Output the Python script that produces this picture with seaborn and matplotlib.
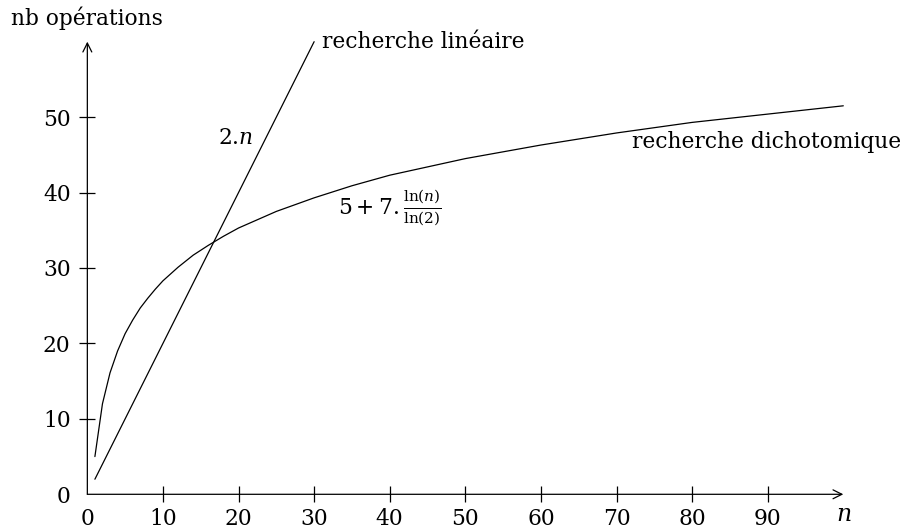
"""Nombre d'opérations : recherche linéaire contre recherche dichotomique."""

import matplotlib

matplotlib.use("Agg")
import matplotlib.pyplot as plt
import pandas as pd
import seaborn as sns

# valeurs
lin_n = [1, 30]
lin_ops = [2, 60]

dicho_n = [1, 2, 3, 4, 5, 6, 7, 8, 9, 10, 12, 14, 16, 18, 20, 25, 30, 35, 40, 50, 60, 70, 80, 90, 100]
dicho_ops = [5.0, 12.0, 16.1, 19.0, 21.3, 23.1, 24.7, 26.0, 27.2, 28.3, 30.1, 31.7, 33.0, 34.2,
             35.3, 37.5, 39.3, 40.9, 42.3, 44.5, 46.3, 47.9, 49.3, 50.4, 51.5]

x_ticks = [0, 10, 20, 30, 40, 50, 60, 70, 80, 90]
y_ticks = [0, 10, 20, 30, 40, 50]

FS = 15.7

sns.set_style("white")
plt.rcParams["font.family"] = ["DejaVu Serif"]
plt.rcParams["mathtext.fontset"] = "dejavuserif"
plt.rcParams["font.size"] = FS
plt.rcParams["text.color"] = "black"

lin = pd.DataFrame({"n": lin_n, "ops": lin_ops})
dicho = pd.DataFrame({"n": dicho_n, "ops": dicho_ops})

fig = plt.figure(figsize=(9.06, 5.29), dpi=100)
ax = fig.add_axes([0.0964, 0.0656, 0.8344, 0.8556])

sns.lineplot(data=lin, x="n", y="ops", color="black", linewidth=0.9, ax=ax, clip_on=False)
sns.lineplot(data=dicho, x="n", y="ops", color="black", linewidth=0.9, ax=ax, clip_on=False)

ax.set_xlim(0, 100)
ax.set_ylim(0, 60)
for side in ax.spines.values():
    side.set_visible(False)

# axes avec flèches
arrow = dict(arrowstyle="->", color="black", lw=0.9, shrinkA=0, shrinkB=0, mutation_scale=16)
ax.annotate("", xy=(100, 0), xytext=(0, 0), arrowprops=arrow, annotation_clip=False)
ax.annotate("", xy=(0, 60), xytext=(0, 0), arrowprops=arrow, annotation_clip=False)

ax.set_xticks(x_ticks)
ax.set_yticks(y_ticks)
ax.set_xticklabels([str(v) for v in x_ticks])
ax.set_yticklabels([str(v) for v in y_ticks])
ax.tick_params(axis="both", direction="inout", length=11, width=0.9, color="black",
               labelsize=FS, labelcolor="black", bottom=True, left=True)
ax.tick_params(axis="x", pad=4.5)
ax.tick_params(axis="y", pad=6.5)
ax.xaxis.get_major_ticks()[0].tick1line.set_visible(False)
ax.yaxis.get_major_ticks()[0].tick1line.set_visible(False)
ax.set_xlabel("")
ax.set_ylabel("")

ax.text(0, 61.5, "nb opérations", ha="center", va="bottom", fontsize=FS, clip_on=False)
ax.text(100, -3.6, "$n$", ha="center", va="baseline", fontsize=17, clip_on=False)

ax.text(31, 60, "recherche linéaire", ha="left", va="center", fontsize=FS)
ax.text(72, 46.7, "recherche dichotomique", ha="left", va="center", fontsize=FS)
ax.text(22, 47.2, "2.$n$", ha="right", va="center", fontsize=FS)
ax.text(33.2, 38.0, r"$5+7.\frac{\ln(n)}{\ln(2)}$", ha="left", va="center", fontsize=FS)

fig.savefig("out.png", dpi=100)
